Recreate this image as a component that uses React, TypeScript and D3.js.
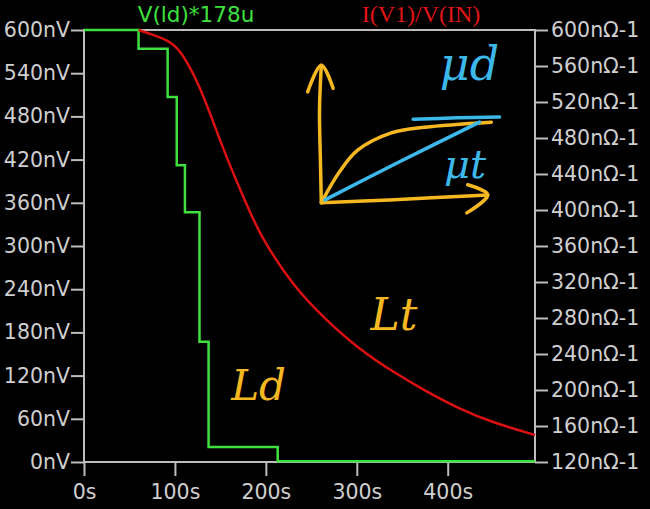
import React, { useEffect, useRef } from "react";
import * as d3 from "d3";

// time axis (s)
const xTicks = [0, 100, 200, 300, 400];
const xMax = 496;

// left axis: V(ld)*178u in nV
const leftTicks = [0, 60, 120, 180, 240, 300, 360, 420, 480, 540, 600];
// right axis: I(V1)/V(IN) in nOhm-1
const rightTicks = [120, 160, 200, 240, 280, 320, 360, 400, 440, 480, 520, 560, 600];

// green staircase: [start time, value]
const stepTimes = [0, 60, 92, 102, 111, 127, 137, 213, 496];
const stepValues = [600, 574, 507, 412, 347, 167, 21, 1, 1];

// red curve samples
const curveTimes = [60, 75, 91, 105, 127, 142, 160, 179, 193, 230, 267, 303, 340, 377, 413, 449, 496];
const curveValues = [600, 595, 589, 580, 539, 498, 450, 406, 373, 315, 277, 245, 220, 198, 179, 164, 150];

// hand drawn notes, in (time, nV) of the left axis
const yellowUp: [number, number][] = [[261, 360], [260, 419], [259, 489], [261, 551]];
const yellowUpHead: [number, number][] = [[246, 514], [261, 551], [274, 519]];
const yellowRight: [number, number][] = [[261, 360], [336, 364], [444, 371]];
const yellowRightHead: [number, number][] = [[422, 385], [444, 371], [421, 346]];
const yellowCurve: [number, number][] = [[261, 360], [281, 403], [301, 433], [338, 457], [375, 465], [448, 472]];
const blueLine: [number, number][] = [[265, 364], [347, 417], [435, 472]];
const blueBar: [number, number][] = [[362, 476], [410, 478], [457, 479]];

export default function App() {
  const svgRef = useRef<SVGSVGElement>(null);
  const width = 650;
  const height = 509;

  useEffect(() => {
    const svg = d3.select(svgRef.current);
    svg.selectAll("*").remove();

    const margin = { top: 30, right: 115, bottom: 47, left: 84 };
    const w = width - margin.left - margin.right;
    const h = height - margin.top - margin.bottom;
    const grey = "#bdbdbd";
    const font = "DejaVu Sans, Verdana, sans-serif";

    svg.append("rect").attr("width", width).attr("height", height).attr("fill", "#000");

    const x = d3.scaleLinear().domain([0, xMax]).range([0, w]);
    const yL = d3.scaleLinear().domain([0, 600]).range([h, 0]);
    const yR = d3.scaleLinear().domain([120, 600]).range([h, 0]);

    const g = svg.append("g").attr("transform", `translate(${margin.left},${margin.top})`);

    // frame
    g.append("rect")
      .attr("width", w)
      .attr("height", h)
      .attr("fill", "none")
      .attr("stroke", grey)
      .attr("stroke-width", 2);

    const styleAxis = (sel: any) => {
      sel.select(".domain").remove();
      sel.selectAll("line").attr("stroke", grey).attr("stroke-width", 2);
      sel.selectAll("text").attr("fill", "#cfcfcf").attr("font-family", font).attr("font-size", "20.5px");
    };

    g.append("g")
      .call(d3.axisLeft(yL).tickValues(leftTicks).tickSize(13).tickPadding(1).tickFormat((d) => `${d}nV`))
      .call(styleAxis);

    g.append("g")
      .attr("transform", `translate(${w},0)`)
      .call(d3.axisRight(yR).tickValues(rightTicks).tickSize(13).tickPadding(3).tickFormat((d) => `${d}nΩ-1`))
      .call(styleAxis);

    g.append("g")
      .attr("transform", `translate(0,${h})`)
      .call(d3.axisBottom(x).tickValues(xTicks).tickSize(14).tickPadding(8).tickFormat((d) => `${d}s`))
      .call(styleAxis);

    // titles
    svg.append("text")
      .attr("x", 196)
      .attr("y", 22)
      .attr("text-anchor", "middle")
      .attr("fill", "#3ee03e")
      .attr("font-family", font)
      .attr("font-size", "21.5px")
      .text("V(ld)*178u");

    svg.append("text")
      .attr("x", 421)
      .attr("y", 22)
      .attr("text-anchor", "middle")
      .attr("fill", "#e01515")
      .attr("font-family", "Liberation Serif, serif")
      .attr("font-size", "24px")
      .text("I(V1)/V(IN)");

    // green staircase
    const steps: [number, number][] = stepTimes.map((t, i) => [t, stepValues[i]]);
    g.append("path")
      .datum(steps)
      .attr("fill", "none")
      .attr("stroke", "#3ee03e")
      .attr("stroke-width", 2.5)
      .attr("d", d3.line<[number, number]>().x((d) => x(d[0])).y((d) => yL(d[1])).curve(d3.curveStepAfter));

    // red curve
    const curve: [number, number][] = curveTimes.map((t, i) => [t, curveValues[i]]);
    g.append("path")
      .datum(curve)
      .attr("fill", "none")
      .attr("stroke", "#dd1010")
      .attr("stroke-width", 2.5)
      .attr("d", d3.line<[number, number]>().x((d) => x(d[0])).y((d) => yR(d[1])).curve(d3.curveBasis));

    // hand drawn notes
    const pen = d3.line<[number, number]>().x((d) => x(d[0])).y((d) => yL(d[1])).curve(d3.curveCatmullRom);
    const yellow = "#f5b821";
    const blue = "#3cb8ea";
    [yellowUp, yellowUpHead, yellowRight, yellowRightHead, yellowCurve].forEach((p) =>
      g.append("path").datum(p).attr("fill", "none").attr("stroke", yellow)
        .attr("stroke-width", 3.5).attr("stroke-linecap", "round").attr("stroke-linejoin", "round").attr("d", pen)
    );
    [blueLine, blueBar].forEach((p) =>
      g.append("path").datum(p).attr("fill", "none").attr("stroke", blue)
        .attr("stroke-width", 3.5).attr("stroke-linecap", "round").attr("d", pen)
    );

    const note = (t: number, v: number, txt: string, color: string, size: number) =>
      g.append("text")
        .attr("x", x(t))
        .attr("y", yL(v))
        .attr("text-anchor", "middle")
        .attr("fill", color)
        .attr("font-family", "DejaVu Serif, serif")
        .attr("font-style", "italic")
        .attr("font-size", `${size}px`)
        .text(txt);

    note(424, 531, "μd", blue, 46);
    note(419, 394, "μt", blue, 40);
    note(192, 86, "Ld", yellow, 42);
    note(341, 183, "Lt", yellow, 44);
  }, []);

  return (
    <svg
      ref={svgRef}
      width={width}
      height={height}
      style={{ position: "absolute", left: 0, top: 0 }}
    />
  );
}
